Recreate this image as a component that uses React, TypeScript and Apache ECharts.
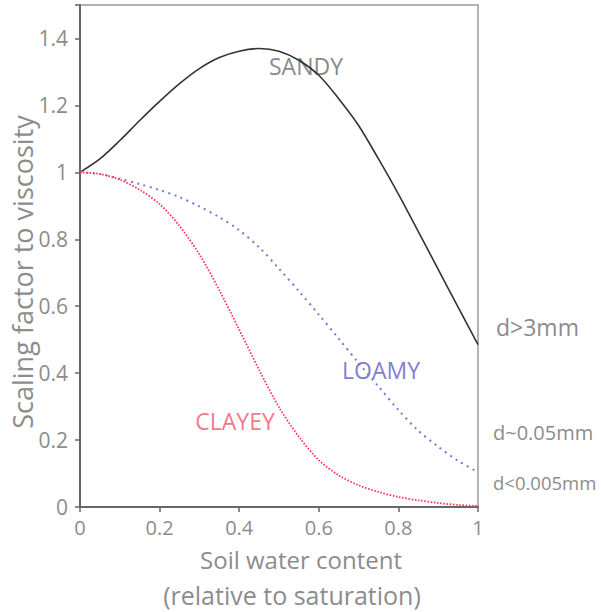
import React, { useEffect, useRef } from "react";
import * as echarts from "echarts";

const waterContent = [0, 0.05, 0.1, 0.15, 0.2, 0.25, 0.3, 0.35, 0.4, 0.45, 0.5, 0.55, 0.6, 0.65, 0.7, 0.75, 0.8, 0.85, 0.9, 0.95, 1.0];
const sandy = [1.0, 1.04, 1.095, 1.155, 1.212, 1.265, 1.31, 1.343, 1.362, 1.37, 1.362, 1.335, 1.29, 1.22, 1.14, 1.04, 0.935, 0.823, 0.71, 0.597, 0.485];
const loamy = [1.0, 0.995, 0.981, 0.965, 0.947, 0.926, 0.898, 0.866, 0.827, 0.776, 0.712, 0.645, 0.575, 0.503, 0.43, 0.36, 0.29, 0.228, 0.18, 0.138, 0.104];
const clayey = [1.0, 0.995, 0.978, 0.948, 0.905, 0.84, 0.755, 0.648, 0.53, 0.41, 0.298, 0.21, 0.14, 0.095, 0.065, 0.045, 0.03, 0.02, 0.012, 0.006, 0.003];

const seriesNames = ["SANDY", "LOAMY", "CLAYEY"];
const sizeLabels = ["d>3mm", "d~0.05mm", "d<0.005mm"];
const xTitle = ["Soil water content", "(relative to saturation)"];
const yTitle = "Scaling factor to viscosity";

const FONT = "'Open Sans', 'DejaVu Sans', sans-serif";
const GRAY = "#8c8c8c";

export default function App() {
  const ref = useRef<HTMLDivElement>(null);
  useEffect(() => {
    if (!ref.current) return;
    const chart = echarts.init(ref.current, null, { renderer: "svg" });
    const pairs = (vals: number[]) => waterContent.map((x, i) => [x, vals[i]]);
    chart.setOption({
      animation: false,
      backgroundColor: "#ffffff",
      grid: {
        left: 80,
        right: 123,
        top: 5,
        bottom: 105,
        show: true,
        borderColor: "#9a9a9a",
        borderWidth: 1.5,
        backgroundColor: "transparent",
      },
      xAxis: {
        type: "value",
        min: 0,
        max: 1,
        interval: 0.2,
        axisLine: { show: true, onZero: false, lineStyle: { color: "#666", width: 2 } },
        axisTick: { show: true, inside: false, length: 5, lineStyle: { color: "#666", width: 1.5 } },
        axisLabel: { color: GRAY, fontFamily: FONT, fontSize: 20, margin: 10 },
        splitLine: { show: false },
      },
      yAxis: {
        type: "value",
        min: 0,
        max: 1.5,
        interval: 0.2,
        axisLine: { show: true, onZero: false, lineStyle: { color: "#666", width: 2 } },
        axisTick: { show: true, inside: false, length: 5, lineStyle: { color: "#666", width: 1.5 } },
        axisLabel: {
          color: GRAY,
          fontFamily: FONT,
          fontSize: 21,
          margin: 12,
          formatter: (v: number) => (Math.abs(v - 1.5) < 1e-9 ? "" : String(Math.round(v * 10) / 10)),
        },
        splitLine: { show: false },
      },
      series: [
        {
          name: seriesNames[0],
          type: "line",
          data: pairs(sandy),
          smooth: 0.3,
          showSymbol: false,
          lineStyle: { color: "#333333", width: 1.6, type: "solid" },
          z: 3,
        },
        {
          name: seriesNames[1],
          type: "line",
          data: pairs(loamy),
          smooth: 0.3,
          showSymbol: false,
          lineStyle: { color: "#7676d6", width: 2, type: [2, 4.5], cap: "butt" },
          z: 3,
        },
        {
          name: seriesNames[2],
          type: "line",
          data: pairs(clayey),
          smooth: 0.3,
          showSymbol: false,
          lineStyle: { color: "#ff3a52", width: 1.8, type: [1.6, 1.6] },
          z: 3,
        },
      ],
      graphic: [
        { type: "text", x: 306, y: 66, style: { text: seriesNames[0], fill: "#8a8a8a", font: `23px ${FONT}`, align: "center", verticalAlign: "middle" } },
        { type: "text", x: 381, y: 370, style: { text: seriesNames[1], fill: "#7f7fd0", font: `23px ${FONT}`, align: "center", verticalAlign: "middle" } },
        { type: "text", x: 235, y: 421, style: { text: seriesNames[2], fill: "#f27a88", font: `23px ${FONT}`, align: "center", verticalAlign: "middle" } },
        { type: "text", x: 496, y: 327, style: { text: sizeLabels[0], fill: GRAY, font: `23px ${FONT}`, align: "left", verticalAlign: "middle" } },
        { type: "text", x: 493, y: 432, style: { text: sizeLabels[1], fill: GRAY, font: `20px ${FONT}`, align: "left", verticalAlign: "middle" } },
        { type: "text", x: 493, y: 482, style: { text: sizeLabels[2], fill: GRAY, font: `18.5px ${FONT}`, align: "left", verticalAlign: "middle" } },
        { type: "text", x: 301, y: 559, style: { text: xTitle[0], fill: GRAY, font: `24px ${FONT}`, align: "center", verticalAlign: "middle" } },
        { type: "text", x: 292, y: 595, style: { text: xTitle[1], fill: GRAY, font: `25px ${FONT}`, align: "center", verticalAlign: "middle" } },
        { type: "text", x: 22, y: 272, rotation: Math.PI / 2, style: { text: yTitle, fill: GRAY, font: `27px ${FONT}`, align: "center", verticalAlign: "middle" } },
      ],
    });
    return () => chart.dispose();
  }, []);
  return <div ref={ref} style={{ position: "absolute", left: 0, top: 0, width: 601, height: 612 }} />;
}
